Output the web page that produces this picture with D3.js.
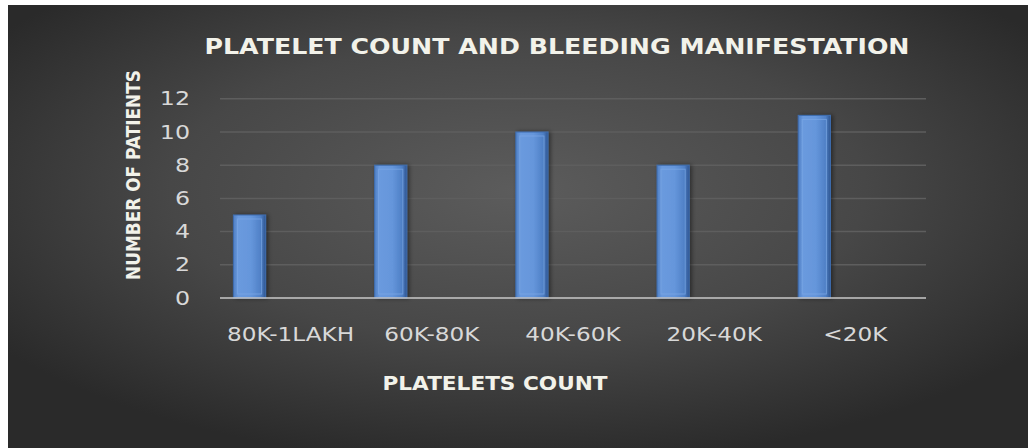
<!DOCTYPE html>
<html><head><meta charset="utf-8">
<script src="https://cdn.jsdelivr.net/npm/d3@7"></script>
<style>html,body{margin:0;padding:0;background:#fff;}svg{display:block;}</style>
</head><body>
<svg id="chart" width="1031" height="448"></svg>
<script>
const categories = ["80K-1LAKH", "60K-80K", "40K-60K", "20K-40K", "<20K"];
const patients = [5, 8, 10, 8, 11];
const yTicks = [0, 2, 4, 6, 8, 10, 12];
const titleText = "PLATELET COUNT AND BLEEDING MANIFESTATION";
const xTitle = "PLATELETS COUNT";
const yTitle = "NUMBER OF PATIENTS";

const svg = d3.select("#chart");
const defs = svg.append("defs");
const bg = defs.append("radialGradient").attr("id","bg").attr("cx","50%").attr("cy","42%").attr("r","62%");
bg.append("stop").attr("offset","0%").attr("stop-color","#5c5c5c");
bg.append("stop").attr("offset","55%").attr("stop-color","#474747");
bg.append("stop").attr("offset","100%").attr("stop-color","#2a2a2a");
const bar = defs.append("linearGradient").attr("id","bar").attr("x1","0").attr("x2","1");
bar.append("stop").attr("offset","0%").attr("stop-color","#4f7fc4");
bar.append("stop").attr("offset","15%").attr("stop-color","#6a9ade");
bar.append("stop").attr("offset","55%").attr("stop-color","#6596db");
bar.append("stop").attr("offset","85%").attr("stop-color","#4f80c6");
bar.append("stop").attr("offset","100%").attr("stop-color","#2f5590");
const shadow = defs.append("filter").attr("id","sh").attr("x","-30%").attr("y","-10%").attr("width","160%").attr("height","120%");
shadow.append("feDropShadow").attr("dx",2).attr("dy",0).attr("stdDeviation",2).attr("flood-color","#000").attr("flood-opacity",0.45);

svg.append("rect").attr("x",8).attr("y",5).attr("width",1020).attr("height",443).attr("fill","url(#bg)");

const m = {left:220, right:926, top:98.8, bottom:298};
const x = d3.scaleBand().domain(categories).range([m.left, m.right]).padding(0);
const y = d3.scaleLinear().domain([0, 12]).range([m.bottom, m.top]);

function stretch(sel, f) {
  sel.each(function(){
    const w = this.getComputedTextLength();
    d3.select(this).attr("textLength", w * f).attr("lengthAdjust","spacingAndGlyphs");
  });
}

// gridlines
svg.append("g").selectAll("line").data(yTicks.filter(d=>d>0)).join("line")
  .attr("x1", m.left).attr("x2", m.right)
  .attr("y1", d=>y(d)).attr("y2", d=>y(d))
  .attr("stroke","#5e5e5e").attr("stroke-width",1.5);

// y axis
const yAxis = svg.append("g").attr("transform",`translate(${m.left},0)`)
  .call(d3.axisLeft(y).tickValues(yTicks).tickSize(0).tickPadding(30));
yAxis.select(".domain").remove();
yAxis.selectAll("text").attr("fill","#d8d8d8").style("font-family","'DejaVu Sans'").style("font-size","19px");
stretch(yAxis.selectAll("text"), 1.25);

// bars
const bw = x.bandwidth();
const g = svg.append("g");
const bars = g.selectAll("g.bar").data(categories.map((c,i)=>({c, v:patients[i]}))).join("g").attr("class","bar");
bars.append("rect")
  .attr("x", d=>x(d.c) + bw*0.095).attr("width", bw*0.228)
  .attr("y", d=>y(d.v)).attr("height", d=>y(0)-y(d.v))
  .attr("fill","url(#bar)").attr("stroke","#3e6db0").attr("stroke-width",1).attr("filter","url(#sh)");
bars.append("rect")
  .attr("x", d=>x(d.c) + bw*0.095 + 4).attr("width", bw*0.228 - 8)
  .attr("y", d=>y(d.v) + 4).attr("height", d=>y(0)-y(d.v) - 8)
  .attr("fill","none").attr("stroke","#7eaae6").attr("stroke-width",1).attr("opacity",0.7);

// x axis baseline
svg.append("line").attr("x1",m.left).attr("x2",m.right).attr("y1",y(0)).attr("y2",y(0))
  .attr("stroke","#c8c8c8").attr("stroke-width",1.5);

const xAxis = svg.append("g").attr("transform",`translate(0,${y(0)})`)
  .call(d3.axisBottom(x).tickSize(0).tickPadding(30));
xAxis.select(".domain").remove();
xAxis.selectAll("text").attr("fill","#d8d8d8").style("font-family","'DejaVu Sans'").style("font-size","19px");
stretch(xAxis.selectAll("text"), 1.22);

// titles
svg.append("text").attr("x",557).attr("y",54).attr("text-anchor","middle")
  .attr("textLength",705).attr("lengthAdjust","spacingAndGlyphs")
  .attr("fill","#f2f2ea").style("font-family","'DejaVu Sans'").style("font-weight","bold").style("font-size","22px")
  .text(titleText);
svg.append("text").attr("x",495).attr("y",390).attr("text-anchor","middle")
  .attr("textLength",225).attr("lengthAdjust","spacingAndGlyphs")
  .attr("fill","#f2f2ea").style("font-family","'DejaVu Sans'").style("font-weight","bold").style("font-size","19px")
  .text(xTitle);
svg.append("text").attr("transform","translate(140,175) rotate(-90)").attr("text-anchor","middle")
  .attr("textLength",210).attr("lengthAdjust","spacingAndGlyphs")
  .attr("fill","#f2f2ea").style("font-family","'DejaVu Sans'").style("font-weight","bold").style("font-size","20px")
  .text(yTitle);
</script>
</body></html>
